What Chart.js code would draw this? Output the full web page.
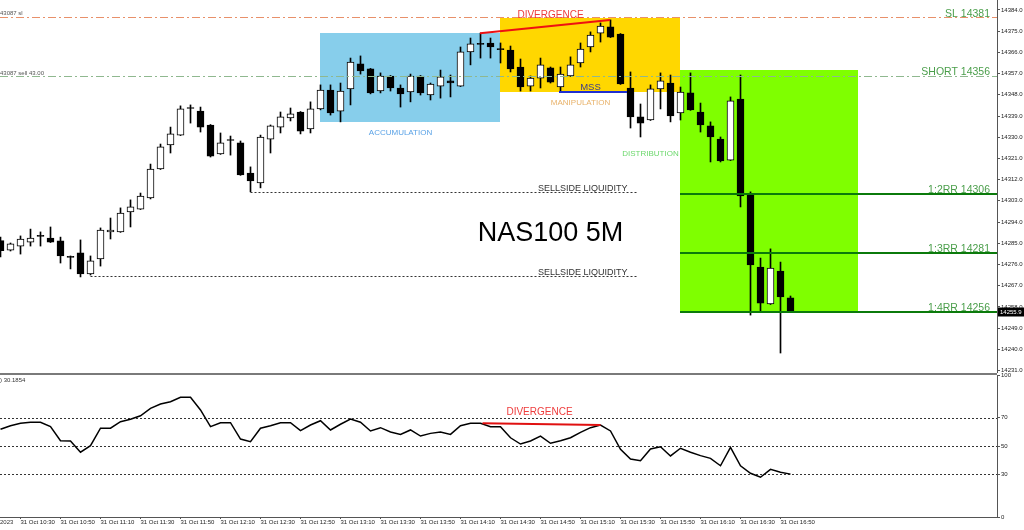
<!DOCTYPE html>
<html><head><meta charset="utf-8">
<script src="https://cdn.jsdelivr.net/npm/chart.js@4.4.0/dist/chart.umd.min.js"></script>
<style>
html,body{margin:0;padding:0;background:#fff;width:1024px;height:530px;overflow:hidden;}
#price{position:absolute;left:0;top:0;}
#rsi{position:absolute;left:0;top:370px;}
</style></head><body>
<canvas id="price" width="1024" height="373"></canvas>
<canvas id="rsi" width="1024" height="160"></canvas>
<script>
// ---------- DATA ----------
const times = [
"10:20","10:25","10:30","10:35","10:40","10:45","10:50","10:55",
"11:00","11:05","11:10","11:15","11:20","11:25","11:30","11:35","11:40","11:45","11:50","11:55",
"12:00","12:05","12:10","12:15","12:20","12:25","12:30","12:35","12:40","12:45","12:50","12:55",
"13:00","13:05","13:10","13:15","13:20","13:25","13:30","13:35","13:40","13:45","13:50","13:55",
"14:00","14:05","14:10","14:15","14:20","14:25","14:30","14:35","14:40","14:45","14:50","14:55",
"15:00","15:05","15:10","15:15","15:20","15:25","15:30","15:35","15:40","15:45","15:50","15:55",
"16:00","16:05","16:10","16:15","16:20","16:25","16:30","16:35","16:40","16:45","16:50","16:55"];
const opens = [14286.1,14282.1,14283.8,14285.5,14288.1,14287.2,14286.0,14279.2,14280.9,14272.0,
14278.3,14289.8,14289.8,14298.3,14299.5,14304.2,14316.5,14326.7,14330.9,14342.4,
14341.1,14335.2,14322.9,14328.8,14327.6,14314.8,14310.6,14329.2,14334.3,14338.2,
14340.7,14333.5,14342.0,14350.0,14341.1,14350.5,14361.1,14359.0,14349.6,14356.0,
14350.9,14349.2,14356.0,14347.9,14351.7,14353.9,14351.7,14366.2,14369.6,14370.0,
14367.4,14367.0,14359.8,14351.7,14355.1,14359.4,14351.3,14356.0,14361.5,14368.3,
14374.2,14376.8,14373.8,14350.9,14338.6,14337.3,14350.5,14353.0,14340.3,14348.8,
14340.7,14334.8,14329.2,14320.3,14346.2,14305.5,14274.9,14259.2,14273.2,14261.8];
const highs = [14287.6,14285.1,14288.1,14291.0,14289.8,14291.9,14287.6,14279.6,14286.4,14279.6,
14291.5,14295.7,14300.0,14303.4,14306.3,14318.6,14327.1,14334.3,14343.3,14343.7,
14342.8,14335.4,14331.8,14330.5,14328.4,14317.4,14330.9,14335.2,14340.7,14342.4,
14340.9,14345.0,14352.2,14352.2,14353.0,14363.6,14364.5,14359.2,14357.3,14356.2,
14352.2,14356.8,14356.2,14353.0,14358.5,14356.4,14368.3,14372.1,14374.2,14372.1,
14370.0,14368.7,14363.2,14356.0,14363.6,14359.8,14359.8,14364.1,14370.0,14374.7,
14378.5,14379.8,14374.0,14357.7,14344.1,14352.2,14357.3,14356.4,14351.3,14357.3,
14344.5,14336.5,14330.1,14347.1,14356.4,14306.8,14278.7,14282.6,14277.0,14262.6];
const lows = [14279.2,14281.7,14280.4,14283.8,14283.8,14285.3,14276.6,14274.1,14270.7,14271.5,
14275.3,14286.8,14289.6,14291.9,14299.3,14303.8,14316.3,14323.3,14330.7,14336.0,
14332.2,14321.6,14322.7,14322.4,14313.8,14306.8,14308.5,14323.3,14331.8,14336.9,
14331.4,14331.8,14341.6,14339.4,14336.5,14343.7,14356.8,14348.4,14348.8,14349.6,
14342.8,14345.0,14347.9,14345.8,14346.6,14347.1,14351.5,14360.7,14363.6,14363.6,
14361.5,14357.7,14349.6,14349.6,14350.9,14353.0,14349.2,14355.8,14359.8,14366.2,
14370.4,14372.3,14352.4,14333.9,14330.1,14337.1,14342.0,14336.5,14337.3,14341.4,
14332.2,14319.5,14319.5,14320.1,14300.4,14254.5,14255.8,14259.0,14238.4,14255.8];
const closes = [14281.8,14284.7,14286.8,14287.2,14287.9,14285.5,14279.6,14279.0,14272.0,14277.5,
14290.6,14290.6,14297.8,14300.4,14305.0,14316.5,14325.9,14331.4,14342.0,14342.2,
14334.3,14322.0,14327.6,14328.6,14314.0,14311.4,14330.1,14334.8,14338.6,14339.9,
14332.6,14342.0,14350.0,14340.3,14349.6,14361.9,14358.1,14348.8,14356.0,14350.9,
14348.4,14356.0,14348.8,14352.6,14355.6,14353.0,14366.2,14369.6,14369.4,14368.3,
14367.2,14359.0,14351.3,14355.1,14360.7,14353.4,14356.8,14360.7,14367.4,14373.4,
14377.2,14372.5,14352.6,14338.6,14336.0,14350.5,14353.9,14339.0,14349.2,14341.6,
14335.2,14330.1,14319.9,14345.4,14305.1,14275.8,14259.6,14274.5,14262.2,14255.9];
const rsiValues = [61.8,64.3,66.0,66.7,66.7,63.6,53.7,53.5,45.6,50.2,
62.5,62.5,67.1,68.8,71.3,76.5,79.6,81.2,84.3,84.3,
75.4,63.6,66.4,66.4,54.9,53.0,62.5,64.3,66.4,66.4,
60.8,64.8,67.8,61.3,65.3,69.0,66.7,60.6,62.9,59.9,
58.2,61.3,57.0,58.9,59.9,58.2,64.3,66.0,66.0,63.6,
63.6,55.8,51.4,53.5,57.0,51.9,53.7,55.8,59.6,62.9,
64.8,60.6,47.7,40.8,39.6,47.9,49.5,43.0,48.4,45.6,
43.2,41.3,36.1,49.1,36.1,30.8,28.0,33.6,31.5,30.2];
const priceTicks = [14384,14375,14366,14357,14348,14339,14330,14321,14312,14303,14294,14285,14276,14267,14258,14249,14240,14231];
const rsiTicks = [100,70,50,30,0];
const rsiLevels = [70,50,30];
const timeTickLabels = ["10:30","10:50","11:10","11:30","11:50","12:10","12:30","12:50","13:10","13:30","13:50","14:10","14:30","14:50","15:10","15:30","15:50","16:10","16:30","16:50"];
const dateLabel = "31 Oct";
const rsiLabel = ") 30.1854";

// ---------- ANNOTATIONS (data coordinates: x = bar index, y = price) ----------
const FONT = "'Liberation Sans', Arial, sans-serif";
const GREEN_TXT = '#4a9e4a';
const priceAnno = {
  boxes: [
    {x0:31.95, x1:49.95, top:14374.2, bottom:14336.5, color:'#87CEEB'},
    {x0:49.95, x1:67.95, top:14380.6, bottom:14349.2, color:'#FFD700'},
    {x0:67.95, x1:85.75, top:14358.5, bottom:14256.0, color:'#7FFF00'}
  ],
  lines: [
    {x0:null, x1:null, y0:14381, y1:14381, color:'#e8906a', width:1, dash:[8,3,2,3]},
    {x0:null, x1:null, y0:14356, y1:14356, color:'#8fb88f', width:1, dash:[8,3,2,3]},
    {x0:67.95, x1:null, y0:14306, y1:14306, color:'#0b7a0b', width:2, dash:[]},
    {x0:67.95, x1:null, y0:14281, y1:14281, color:'#0b7a0b', width:2, dash:[]},
    {x0:67.95, x1:null, y0:14256, y1:14256, color:'#0b7a0b', width:2, dash:[]},
    {x0:25, x1:63.8, y0:14306.75, y1:14306.75, color:'#333', width:1, dash:[2,2]},
    {x0:9, x1:63.8, y0:14271.1, y1:14271.1, color:'#333', width:1, dash:[2,2]},
    {x0:55.85, x1:62.65, y0:14349.2, y1:14349.2, color:'#1f2fd0', width:2, dash:[]},
    {x0:47.95, x1:60.95, y0:14374.1, y1:14379.8, color:'#ee1111', width:2, dash:[]}
  ],
  texts: [
    {t:'DIVERGENCE', x:55, y:14381.9, color:'#ee3b3b', size:10, align:'center', base:'middle', dy:0},
    {t:'ACCUMULATION', x:40, y:14331.8, color:'#5aa2e6', size:8, align:'center', base:'middle', dy:0},
    {t:'MANIPULATION', x:58, y:14344.5, color:'#e8b26a', size:8, align:'center', base:'middle', dy:0},
    {t:'DISTRIBUTION', x:65, y:14322.9, color:'#6cd86c', size:8, align:'center', base:'middle', dy:0},
    {t:'MSS', x:59, y:14351.3, color:'#3c3c8c', size:9.5, align:'center', base:'middle', dy:0},
    {t:'SELLSIDE LIQUIDITY', x:62.7, y:14306.75, color:'#333', size:9, align:'right', base:'alphabetic', dy:-0.5},
    {t:'SELLSIDE LIQUIDITY', x:62.7, y:14271.1, color:'#333', size:9, align:'right', base:'alphabetic', dy:-0.5},
    {t:'NAS100 5M', x:55, y:14289.3, color:'#000', size:27, align:'center', base:'middle', dy:0},
    {t:'SL 14381', x:null, y:14381, color:GREEN_TXT, size:10.5, align:'right', base:'alphabetic', dy:-0.5},
    {t:'SHORT 14356', x:null, y:14356, color:GREEN_TXT, size:10.5, align:'right', base:'alphabetic', dy:-0.5},
    {t:'1:2RR 14306', x:null, y:14306, color:GREEN_TXT, size:10.5, align:'right', base:'alphabetic', dy:-1},
    {t:'1:3RR 14281', x:null, y:14281, color:GREEN_TXT, size:10.5, align:'right', base:'alphabetic', dy:-1},
    {t:'1:4RR 14256', x:null, y:14256, color:GREEN_TXT, size:10.5, align:'right', base:'alphabetic', dy:-1},
    {t:'43087 sl', x:-0.05, y:14381, color:'#555', size:6, align:'left', base:'alphabetic', dy:-2},
    {t:'43087 sell 43.00', x:-0.05, y:14356, color:'#555', size:6, align:'left', base:'alphabetic', dy:-1}
  ]
};
const rsiAnno = {
  line: {x0:48.2, y0:66.0, x1:60, y1:64.8, color:'#e01010', width:2},
  text: {t:'DIVERGENCE', x:53.9, y:73.9, color:'#ee3b3b', size:10}
};

Chart.defaults.font.family = FONT;

function px(scale, v, fallback){ return v === null ? fallback : scale.getPixelForValue(v); }

const pricePlugin = {
  id:'priceAnno',
  beforeDatasetsDraw(chart){
    const {ctx, chartArea:a, scales:{x, y}} = chart;
    ctx.save();
    ctx.beginPath(); ctx.rect(a.left, a.top, a.right - a.left, a.bottom - a.top); ctx.clip();
    for (const b of priceAnno.boxes){
      const x0 = Math.round(x.getPixelForValue(b.x0)), x1 = Math.round(x.getPixelForValue(b.x1));
      const y0 = Math.round(y.getPixelForValue(b.top)), y1 = Math.round(y.getPixelForValue(b.bottom));
      ctx.fillStyle = b.color;
      ctx.fillRect(x0, y0, x1 - x0, y1 - y0);
    }
    ctx.restore();
  },
  afterDatasetsDraw(chart){
    const {ctx, chartArea:a, scales:{x, y}} = chart;
    ctx.save();
    ctx.beginPath(); ctx.rect(a.left, a.top, a.right - a.left, a.bottom - a.top); ctx.clip();
    for (const l of priceAnno.lines){
      const x0 = px(x, l.x0, a.left), x1 = px(x, l.x1, a.right);
      let y0 = y.getPixelForValue(l.y0), y1 = y.getPixelForValue(l.y1);
      if (l.y0 === l.y1){ y0 = y1 = (l.width % 2 ? Math.round(y0) + 0.5 : Math.round(y0)); }
      ctx.strokeStyle = l.color; ctx.lineWidth = l.width; ctx.setLineDash(l.dash);
      ctx.beginPath(); ctx.moveTo(x0, y0); ctx.lineTo(x1, y1); ctx.stroke();
    }
    ctx.setLineDash([]);
    ctx.restore();
    ctx.save();
    for (const t of priceAnno.texts){
      const tx = t.x === null ? a.right - 7 : x.getPixelForValue(t.x);
      const ty = y.getPixelForValue(t.y) + t.dy;
      ctx.font = t.size + 'px ' + FONT;
      ctx.fillStyle = t.color; ctx.textAlign = t.align; ctx.textBaseline = t.base;
      ctx.fillText(t.t, tx, ty);
    }
    // current price tag
    const last = closes[closes.length - 1];
    const ly = y.getPixelForValue(last);
    ctx.fillStyle = '#000';
    ctx.fillRect(a.right + 1, Math.round(ly) - 4.5, 26, 9);
    ctx.fillStyle = '#fff'; ctx.font = '6px ' + FONT; ctx.textAlign = 'left'; ctx.textBaseline = 'middle';
    ctx.fillText(last.toFixed(1), a.right + 3, Math.round(ly));
    ctx.restore();
  }
};

const rsiPlugin = {
  id:'rsiAnno',
  beforeDatasetsDraw(chart){
    const {ctx, chartArea:a, scales:{x, y}} = chart;
    ctx.save();
    ctx.strokeStyle = '#333'; ctx.lineWidth = 1; ctx.setLineDash([2,2]);
    for (const v of rsiLevels){
      const yy = Math.round(y.getPixelForValue(v)) + 0.5;
      ctx.beginPath(); ctx.moveTo(a.left, yy); ctx.lineTo(a.right, yy); ctx.stroke();
    }
    ctx.setLineDash([]);
    ctx.restore();
  },
  afterDatasetsDraw(chart){
    const {ctx, chartArea:a, scales:{x, y}} = chart;
    ctx.save();
    // pane separator
    ctx.fillStyle = '#7a7a7a';
    ctx.fillRect(0, a.top - 2, a.right, 2);
    const L = rsiAnno.line;
    ctx.strokeStyle = L.color; ctx.lineWidth = L.width;
    ctx.beginPath(); ctx.moveTo(x.getPixelForValue(L.x0), y.getPixelForValue(L.y0));
    ctx.lineTo(x.getPixelForValue(L.x1), y.getPixelForValue(L.y1)); ctx.stroke();
    const T = rsiAnno.text;
    ctx.font = T.size + 'px ' + FONT; ctx.fillStyle = T.color; ctx.textAlign = 'center'; ctx.textBaseline = 'middle';
    ctx.fillText(T.t, x.getPixelForValue(T.x), y.getPixelForValue(T.y));
    ctx.font = '6px ' + FONT; ctx.fillStyle = '#333'; ctx.textAlign = 'left';
    ctx.fillText(rsiLabel, a.left, a.top + 5);
    ctx.fillText('2023', a.left, a.bottom + 5.5);
    ctx.restore();
  }
};

new Chart(document.getElementById('price'), {
  type:'bar',
  data:{datasets:[
    {label:'wick', data: times.map((t,i)=>({x:i, y:[lows[i], highs[i]]})),
     backgroundColor:'#000', borderWidth:0, barThickness:1, grouped:false, order:2},
    {label:'body', data: times.map((t,i)=>({x:i, y:[opens[i], closes[i]]})),
     backgroundColor: c => (closes[c.dataIndex] >= opens[c.dataIndex] ? '#fff' : '#000'),
     borderColor:'#000', borderWidth:1, borderSkipped:false, barThickness:7, minBarLength:1, grouped:false, order:1}
  ]},
  options:{
    responsive:false, animation:false, devicePixelRatio:1, events:[],
    layout:{padding:0},
    plugins:{legend:{display:false}, tooltip:{enabled:false}},
    scales:{
      x:{type:'linear', min:-0.05, max:99.65, bounds:'data', offset:false, display:false, grid:{offset:false}},
      y:{type:'linear', position:'right', min:14229.92, max:14388.24, bounds:'data',
         afterBuildTicks: s => { s.ticks = priceTicks.map(v => ({value:v})); },
         afterFit: s => { s.width = 27; s.paddingTop = 0; s.paddingBottom = 0; },
         ticks:{padding:1, font:{size:6}, color:'#222', callback: v => Number(v).toFixed(1)},
         grid:{drawOnChartArea:false, drawTicks:true, tickLength:3, color:'#555'},
         border:{display:true, color:'#555'}}
    }
  },
  plugins:[pricePlugin]
});

new Chart(document.getElementById('rsi'), {
  type:'line',
  data:{datasets:[{data: rsiValues.map((v,i)=>({x:i, y:v})), borderColor:'#000', borderWidth:1.5,
    pointRadius:0, tension:0, fill:false}]},
  options:{
    responsive:false, animation:false, devicePixelRatio:1, events:[],
    layout:{padding:{top:5, left:0, right:0, bottom:0}},
    plugins:{legend:{display:false}, tooltip:{enabled:false}},
    scales:{
      x:{type:'linear', min:-0.05, max:99.65, bounds:'data', position:'bottom', offset:false,
         afterBuildTicks: s => { s.ticks = timeTickLabels.map(t => ({value: times.indexOf(t)})); },
         afterFit: s => { s.height = 13; s.paddingLeft = 0; s.paddingRight = 0; },
         ticks:{align:'start', autoSkip:false, maxRotation:0, minRotation:0, padding:0, font:{size:6}, color:'#222',
                callback: v => dateLabel + ' ' + times[v]},
         grid:{drawOnChartArea:false, drawTicks:true, tickLength:2, color:'#555'},
         border:{display:true, color:'#555'}},
      y:{type:'linear', position:'right', min:0, max:100, bounds:'data',
         afterBuildTicks: s => { s.ticks = rsiTicks.map(v => ({value:v})); },
         afterFit: s => { s.width = 27; s.paddingTop = 0; s.paddingBottom = 0; },
         ticks:{padding:1, font:{size:6}, color:'#222', callback: v => String(v)},
         grid:{drawOnChartArea:false, drawTicks:true, tickLength:3, color:'#555'},
         border:{display:true, color:'#555'}}
    }
  },
  plugins:[rsiPlugin]
});
</script>
</body></html>
